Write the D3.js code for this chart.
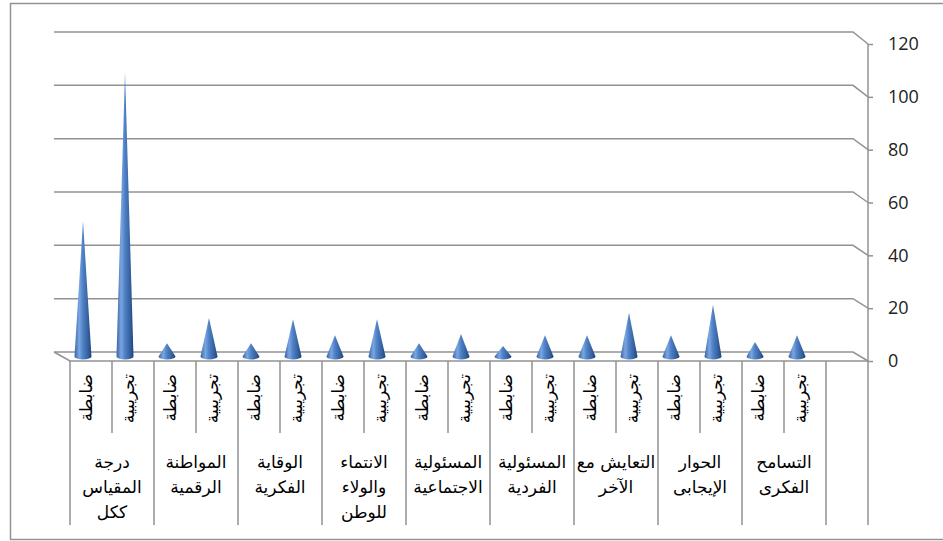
<!DOCTYPE html>
<html>
<head>
<meta charset="utf-8">
<script src="https://cdn.jsdelivr.net/npm/d3@7"></script>
<style>
  body { margin: 0; background: #fff; }
  svg { display: block; }
</style>
</head>
<body>
<svg id="chart" width="943" height="541"></svg>
<script>
// category groups, left to right as in the picture (lines split with \n)
const groups = [
    "درجة\nالمقياس\nككل",
    "المواطنة\nالرقمية",
    "الوقاية\nالفكرية",
    "الانتماء\nوالولاء\nللوطن",
    "المسئولية\nالاجتماعية",
    "المسئولية\nالفردية",
    "التعايش مع\nالآخر",
    "الحوار\nالإيجابى",
    "التسامح\nالفكرى"
];
// sub categories inside every group (left, right)
const subLabels = ["ضابطة", "تجريبية"];
const controlValues = [51, 5, 5, 8, 5, 4, 8, 8, 5.5];
const experimentalValues = [107, 14.5, 14, 14, 8.5, 8, 16.5, 19.5, 8];
const yTicks = [0, 20, 40, 60, 80, 100, 120];

const svg = d3.select('#chart');
const gray = '#929292';

// one slot per cone, plus the empty slot at the far right
const slots = [];
groups.forEach((g, i) => {
    slots.push({ group: i, sub: 0, value: controlValues[i] });
    slots.push({ group: i, sub: 1, value: experimentalValues[i] });
});
const nSlots = slots.length + 1;

// front edge of the floor runs along x
const x = d3.scaleBand().domain(d3.range(nSlots)).range([70, 868]).padding(0);
const bw = x.bandwidth();

// back wall, front edge and the middle depth where the cones stand
const yBack = d3.scaleLinear().domain([0, 120]).range([352, 32]);
const yFront = d3.scaleLinear().domain([0, 120]).range([361, 44]);
const yMid = d3.scaleLinear().domain([0, 120]).range([356.5, 38]);
const depthX = 15;   // back wall is shifted left by this much
const midX = 8;

// outer frame
svg.append('rect')
    .attr('x', 10.5).attr('y', 3.5)
    .attr('width', 940).attr('height', 536)
    .attr('fill', 'none')
    .attr('stroke', gray)
    .attr('stroke-width', 1.5);

// gridlines on the back wall with the bend to the axis
const grid = svg.append('g');
grid.selectAll('path.grid')
    .data(yTicks)
    .join('path')
    .attr('class', 'grid')
    .attr('d', d => `M${x(0) - depthX - 1},${yBack(d)} H${868 - depthX} L868,${yFront(d)}`)
    .attr('fill', 'none')
    .attr('stroke', gray)
    .attr('stroke-width', 1.5);

// floor: left edge and front edge
grid.append('path')
    .attr('d', `M${x(0) - depthX - 1},${yBack(0)} L${x(0)},${yFront(0)} H868`)
    .attr('fill', 'none')
    .attr('stroke', gray)
    .attr('stroke-width', 1.5);

// cone shading
const defs = svg.append('defs');
const grad = defs.append('linearGradient')
    .attr('id', 'coneFill')
    .attr('x1', 0).attr('x2', 1).attr('y1', 0).attr('y2', 0);
[['0%', '#3764a3'], ['28%', '#7aa6e2'], ['50%', '#4f80c4'], ['80%', '#34609f'], ['100%', '#1f4478']]
    .forEach(([o, c]) => grad.append('stop').attr('offset', o).attr('stop-color', c));

const r = 8.5;
const ry = 3;
svg.append('g')
    .selectAll('path.cone')
    .data(slots)
    .join('path')
    .attr('class', 'cone')
    .attr('d', (d, i) => {
        const cx = x(i) + bw / 2 - midX;
        const base = yMid(0);
        const tip = yMid(d.value);
        return `M${cx - r},${base} L${cx},${tip} L${cx + r},${base} A${r},${ry} 0 0 1 ${cx - r},${base} Z`;
    })
    .attr('fill', 'url(#coneFill)');

// value axis on the right
const axis = svg.append('g')
    .attr('transform', 'translate(868,0)')
    .call(d3.axisRight(yFront).tickValues(yTicks).tickSize(5).tickPadding(15));
axis.select('.domain').remove();
axis.selectAll('.tick line').attr('stroke', gray).attr('stroke-width', 1.5);
axis.selectAll('.tick text')
    .attr('fill', '#222')
    .style('font-family', '"Open Sans", sans-serif')
    .style('font-size', '18px');
svg.append('line')
    .attr('x1', 868).attr('x2', 868)
    .attr('y1', yFront(120)).attr('y2', 525)
    .attr('stroke', gray).attr('stroke-width', 1.5);

// category box lines: long at group edges, short between the sub categories
const edges = d3.range(nSlots);
svg.append('g')
    .selectAll('line')
    .data(edges)
    .join('line')
    .attr('x1', i => x(i)).attr('x2', i => x(i))
    .attr('y1', yFront(0))
    .attr('y2', i => (i % 2 === 0 ? 525 : 433))
    .attr('stroke', gray)
    .attr('stroke-width', 1.5);

// rotated sub labels
svg.append('g')
    .selectAll('text')
    .data(slots)
    .join('text')
    .attr('transform', (d, i) => `translate(${x(i) + bw / 2 + 1},374) rotate(-90)`)
    .attr('text-anchor', 'end')
    .style('font-family', '"DejaVu Sans", sans-serif')
    .style('font-size', '17px')
    .attr('fill', '#000')
    .text(d => subLabels[d.sub]);

// group labels
const gl = svg.append('g')
    .selectAll('text')
    .data(groups)
    .join('text')
    .attr('text-anchor', 'middle')
    .style('font-family', '"DejaVu Sans", sans-serif')
    .style('font-size', '17px')
    .attr('fill', '#000');
gl.each(function (d, i) {
    const cx = x(2 * i) + bw;
    d3.select(this).selectAll('tspan')
        .data(d.split('\n'))
        .join('tspan')
        .attr('x', cx)
        .attr('y', (t, j) => 468 + j * 25)
        .text(t => t);
});
</script>
</body>
</html>
